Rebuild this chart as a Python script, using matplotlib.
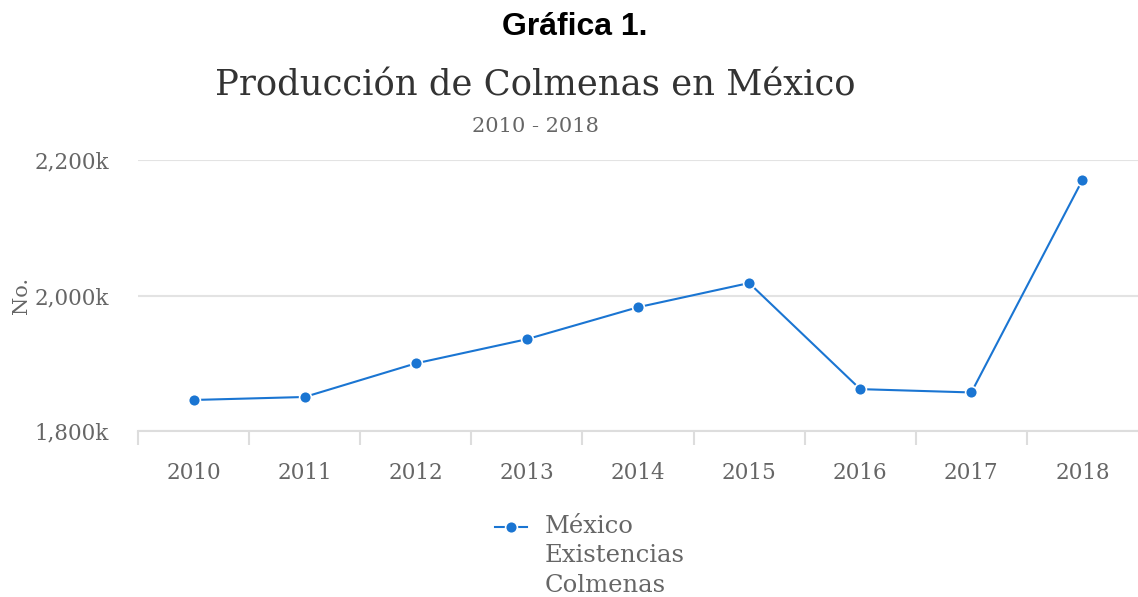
import matplotlib
matplotlib.use("Agg")
import matplotlib.pyplot as plt
from matplotlib.lines import Line2D
from matplotlib.ticker import FuncFormatter

years = ["2010", "2011", "2012", "2013", "2014", "2015", "2016", "2017", "2018"]
colmenas = [1845800, 1850200, 1899800, 1935500, 1982700, 2018400, 1861800, 1856900, 2170500]
series_label = "México\nExistencias\nColmenas"

W, H = 1138, 597
fig = plt.figure(figsize=(W / 100, H / 100), dpi=100)
ax = fig.add_axes([138 / W, 1 - 431 / H, 1000 / W, 271 / H])

blue = "#1a75d2"
grey = "#666666"
serif = "DejaVu Serif"

x = list(range(len(years)))
ax.plot(x, colmenas, color=blue, lw=1.5, marker="o", ms=8.5,
        markerfacecolor=blue, markeredgecolor="white", markeredgewidth=1.2,
        clip_on=False, zorder=3)

ax.set_xlim(-0.5, len(years) - 0.5)
ax.set_ylim(1800000, 2200000)
ax.set_yticks([1800000, 2000000, 2200000])
ax.yaxis.set_major_formatter(FuncFormatter(lambda v, p: f"{int(v / 1000):,}k"))
ax.set_xticks(x)
ax.set_xticklabels(years)
ax.set_xticks([i - 0.5 for i in range(len(years))], minor=True)

ax.grid(axis="y", color="#e3e3e3", lw=1.5)
ax.set_axisbelow(True)
for s in ["top", "right", "left"]:
    ax.spines[s].set_visible(False)
ax.spines["bottom"].set_color("#dddddd")
ax.spines["bottom"].set_linewidth(1.5)

ax.tick_params(axis="y", length=0, pad=21, labelsize=15.5, labelcolor=grey)
ax.tick_params(axis="x", which="major", length=0, pad=22, labelsize=15.5, labelcolor=grey)
ax.tick_params(axis="x", which="minor", length=10, width=1.5, color="#dddddd")
for lab in ax.get_xticklabels() + ax.get_yticklabels():
    lab.set_family(serif)

ax.set_ylabel("No.", fontsize=15, color=grey, family=serif)
ax.yaxis.set_label_coords(-(138 - 21) / 1000, 0.5)
ax.yaxis.label.set_va("center")

fig.text(575 / W, 1 - 27 / H, "Gráfica 1.", ha="center", va="center",
         fontsize=23, fontweight="bold", family="Liberation Sans", color="black")
fig.text(535 / W, 1 - 85 / H, "Producción de Colmenas en México", ha="center", va="center",
         fontsize=25.5, family=serif, color="#333333")
fig.text(535 / W, 1 - 127 / H, "2010 - 2018", ha="center", va="center",
         fontsize=15, family=serif, color=grey)

# legend, drawn by hand so the symbol sits on the first text line
fig.add_artist(Line2D([495 / W, 527 / W], [1 - 527 / H] * 2, transform=fig.transFigure,
                      color=blue, lw=1.5))
fig.add_artist(Line2D([511 / W], [1 - 527 / H], transform=fig.transFigure,
                      color=blue, marker="o", ms=8.5, markeredgecolor="white", markeredgewidth=1.2))
fig.text(545 / W, 1 - 515 / H, series_label, ha="left", va="top",
         fontsize=17.5, family=serif, color=grey, linespacing=1.36)

fig.savefig("out.png", dpi=100)
